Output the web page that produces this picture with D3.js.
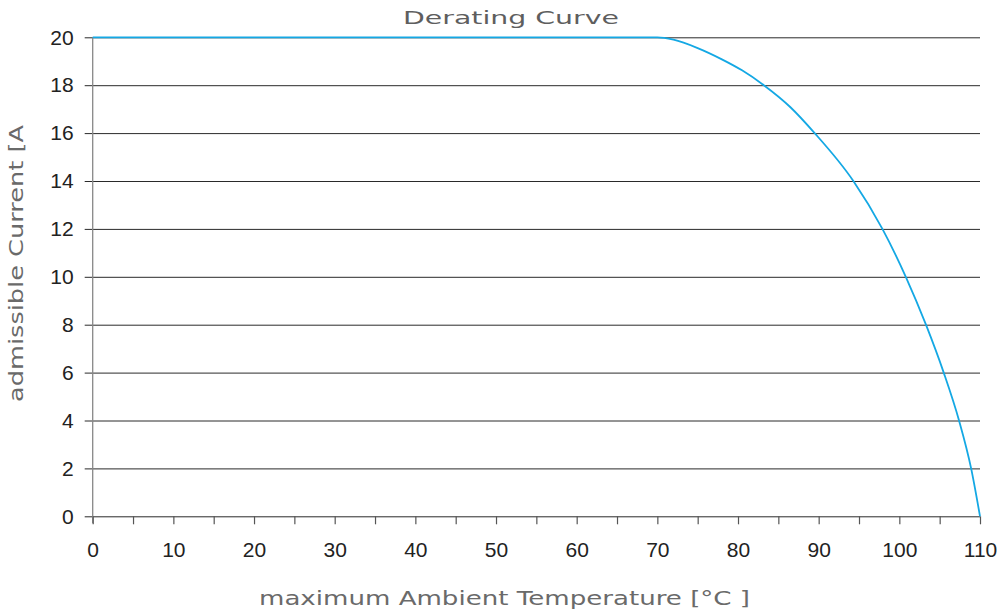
<!DOCTYPE html>
<html>
<head>
<meta charset="utf-8">
<script src="https://cdn.jsdelivr.net/npm/d3@7"></script>
<style>
  body { margin: 0; background: #fff; }
  svg { display: block; }
</style>
</head>
<body>
<div id="chart"></div>
<script>
// Derating curve
const temps = [0, 70, 72, 75, 78, 80.5, 83.2, 86.5, 89.5, 94.3, 97.9, 100.8, 103.3, 105.5, 107.4, 108.9, 110];
const currents = [20, 20, 19.9, 19.55, 19.08, 18.62, 18, 17.08, 16, 14, 12, 10, 8, 6, 4, 2, 0];
const xTicks = [0, 10, 20, 30, 40, 50, 60, 70, 80, 90, 100, 110];
const xMinorTicks = d3.range(0, 111, 5);
const yTicks = [0, 2, 4, 6, 8, 10, 12, 14, 16, 18, 20];

const width = 1001, height = 613;
const plot = {left: 92.7, right: 980, top: 37.3, bottom: 516.3};

const svg = d3.select('#chart').append('svg')
  .attr('width', width)
  .attr('height', height);

const x = d3.scaleLinear().domain([0, 110]).range([plot.left, plot.right]);
const y = d3.scaleLinear().domain([0, 20]).range([plot.bottom, plot.top]);

// horizontal grid lines, sticking out to the left as ticks
const gy = svg.append('g')
  .attr('transform', 'translate(' + plot.right + ',0)')
  .call(d3.axisLeft(y).tickValues(yTicks).tickSize(plot.right - plot.left + 8).tickSizeOuter(0)
    .tickPadding(11).tickFormat(d3.format('d')));
gy.select('.domain').remove();
gy.selectAll('.tick line').attr('stroke', '#2a2a2a').attr('stroke-width', 1);
gy.selectAll('.tick text')
  .attr('fill', '#222')
  .style('font-family', '"Liberation Sans", Arial, sans-serif')
  .style('font-size', '21px');

// vertical axis line
svg.append('line')
  .attr('x1', plot.left).attr('x2', plot.left)
  .attr('y1', plot.top).attr('y2', plot.bottom + 7)
  .attr('stroke', '#888')
  .attr('stroke-width', 1.3);

// bottom axis: minor ticks every 5, labels every 10
const gx = svg.append('g')
  .attr('transform', 'translate(0,' + plot.bottom + ')')
  .call(d3.axisBottom(x).tickValues(xMinorTicks).tickSize(8).tickSizeOuter(0).tickFormat(''));
gx.select('.domain').remove();
gx.selectAll('.tick line').attr('stroke', '#555').attr('stroke-width', 1.2);

const gxl = svg.append('g')
  .attr('transform', 'translate(0,' + plot.bottom + ')')
  .call(d3.axisBottom(x).tickValues(xTicks).tickSize(0).tickPadding(26).tickFormat(d3.format('d')));
gxl.select('.domain').remove();
gxl.selectAll('.tick text')
  .attr('fill', '#222')
  .style('font-family', '"Liberation Sans", Arial, sans-serif')
  .style('font-size', '21px');

// the curve
const line = d3.line()
  .x((d, i) => x(temps[i]))
  .y(d => y(d))
  .curve(d3.curveMonotoneX);

svg.append('path')
  .datum(currents)
  .attr('d', line)
  .attr('fill', 'none')
  .attr('stroke', '#14a8e4')
  .attr('stroke-width', 1.8);

// titles
const labelFont = '"DejaVu Sans", sans-serif';

svg.append('text')
  .attr('x', 403)
  .attr('y', 24)
  .attr('textLength', 216)
  .attr('lengthAdjust', 'spacingAndGlyphs')
  .attr('fill', '#5e5e5e')
  .style('font-family', labelFont)
  .style('font-size', '18px')
  .text('Derating Curve');

svg.append('text')
  .attr('x', 259)
  .attr('y', 605)
  .attr('textLength', 491)
  .attr('lengthAdjust', 'spacingAndGlyphs')
  .attr('fill', '#6a6a6a')
  .style('font-family', labelFont)
  .style('font-size', '20px')
  .text('maximum Ambient Temperature [°C ]');

svg.append('text')
  .attr('transform', 'translate(23,402) rotate(-90)')
  .attr('textLength', 277)
  .attr('lengthAdjust', 'spacingAndGlyphs')
  .attr('fill', '#6a6a6a')
  .style('font-family', labelFont)
  .style('font-size', '20px')
  .text('admissible Current [A');
</script>
</body>
</html>
